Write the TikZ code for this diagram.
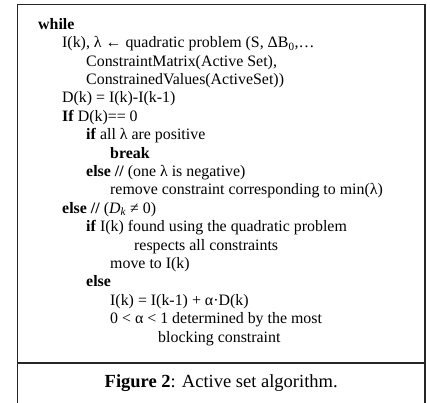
\documentclass[tikz,border=0pt]{standalone}
\usepackage{fontspec}
\setmainfont{Liberation Serif}
\begin{document}
\begin{tikzpicture}[x=1pt,y=1pt,
  ln/.style={anchor=base west, inner sep=0pt, font=\fontsize{15.9}{18.4}\selectfont},
  capstyle/.style={anchor=base, inner sep=0pt, font=\fontsize{18.5}{21}\selectfont},
  frame/.style={line width=1.4pt, draw=black!85}]
\useasboundingbox (0,0) rectangle (430,-402);
% frame
\coordinate (tl) at (17.5,-4.5);
\coordinate (tr) at (425,-4.5);
\coordinate (bl) at (17.5,-403);
\coordinate (br) at (425,-403);
\coordinate (dl) at (17.5,-363);
\coordinate (dr) at (425,-363);
\draw[frame] (bl) -- (tl) -- (tr) -- (br);
\draw[frame] (dl) -- (dr);
% text lines
\node[ln] (l1)  at (38, -29.3) {\textbf{while}};
\node[ln] (l2)  at (62, -47.7) {I(k), λ ← quadratic problem (S, ΔB\textsubscript{0},…};
\node[ln] (l3)  at (86, -66.1) {ConstraintMatrix(Active Set),};
\node[ln] (l4)  at (86, -84.5) {ConstrainedValues(ActiveSet))};
\node[ln] (l5)  at (62, -102.9) {D(k) = I(k)-I(k-1)};
\node[ln] (l6)  at (62, -121.3) {\textbf{If} D(k)== 0};
\node[ln] (l7)  at (86, -139.7) {\textbf{if} all λ are positive};
\node[ln] (l8)  at (110, -158.1) {\textbf{break}};
\node[ln] (l9)  at (86, -176.5) {\textbf{else //} (one λ is negative)};
\node[ln] (l10) at (110, -194.9) {remove constraint corresponding to min(λ)};
\node[ln] (l11) at (62, -213.3) {\textbf{else //} (\textit{D}\textsubscript{\textit{k}} ≠ 0)};
\node[ln] (l12) at (86, -231.7) {\textbf{if} I(k) found using the quadratic problem};
\node[ln] (l13) at (134, -250.1) {respects all constraints};
\node[ln] (l14) at (110, -268.5) {move to I(k)};
\node[ln] (l15) at (86, -286.9) {\textbf{else}};
\node[ln] (l16) at (110, -305.3) {I(k) = I(k-1) + α·D(k)};
\node[ln] (l17) at (110, -323.7) {0 < α < 1 determined by the most};
\node[ln] (l18) at (158, -342.1) {blocking constraint};
% caption
\node[capstyle] (cap) at (221.2,-387) {\textbf{Figure 2}: Active set algorithm.};
\end{tikzpicture}
\end{document}
